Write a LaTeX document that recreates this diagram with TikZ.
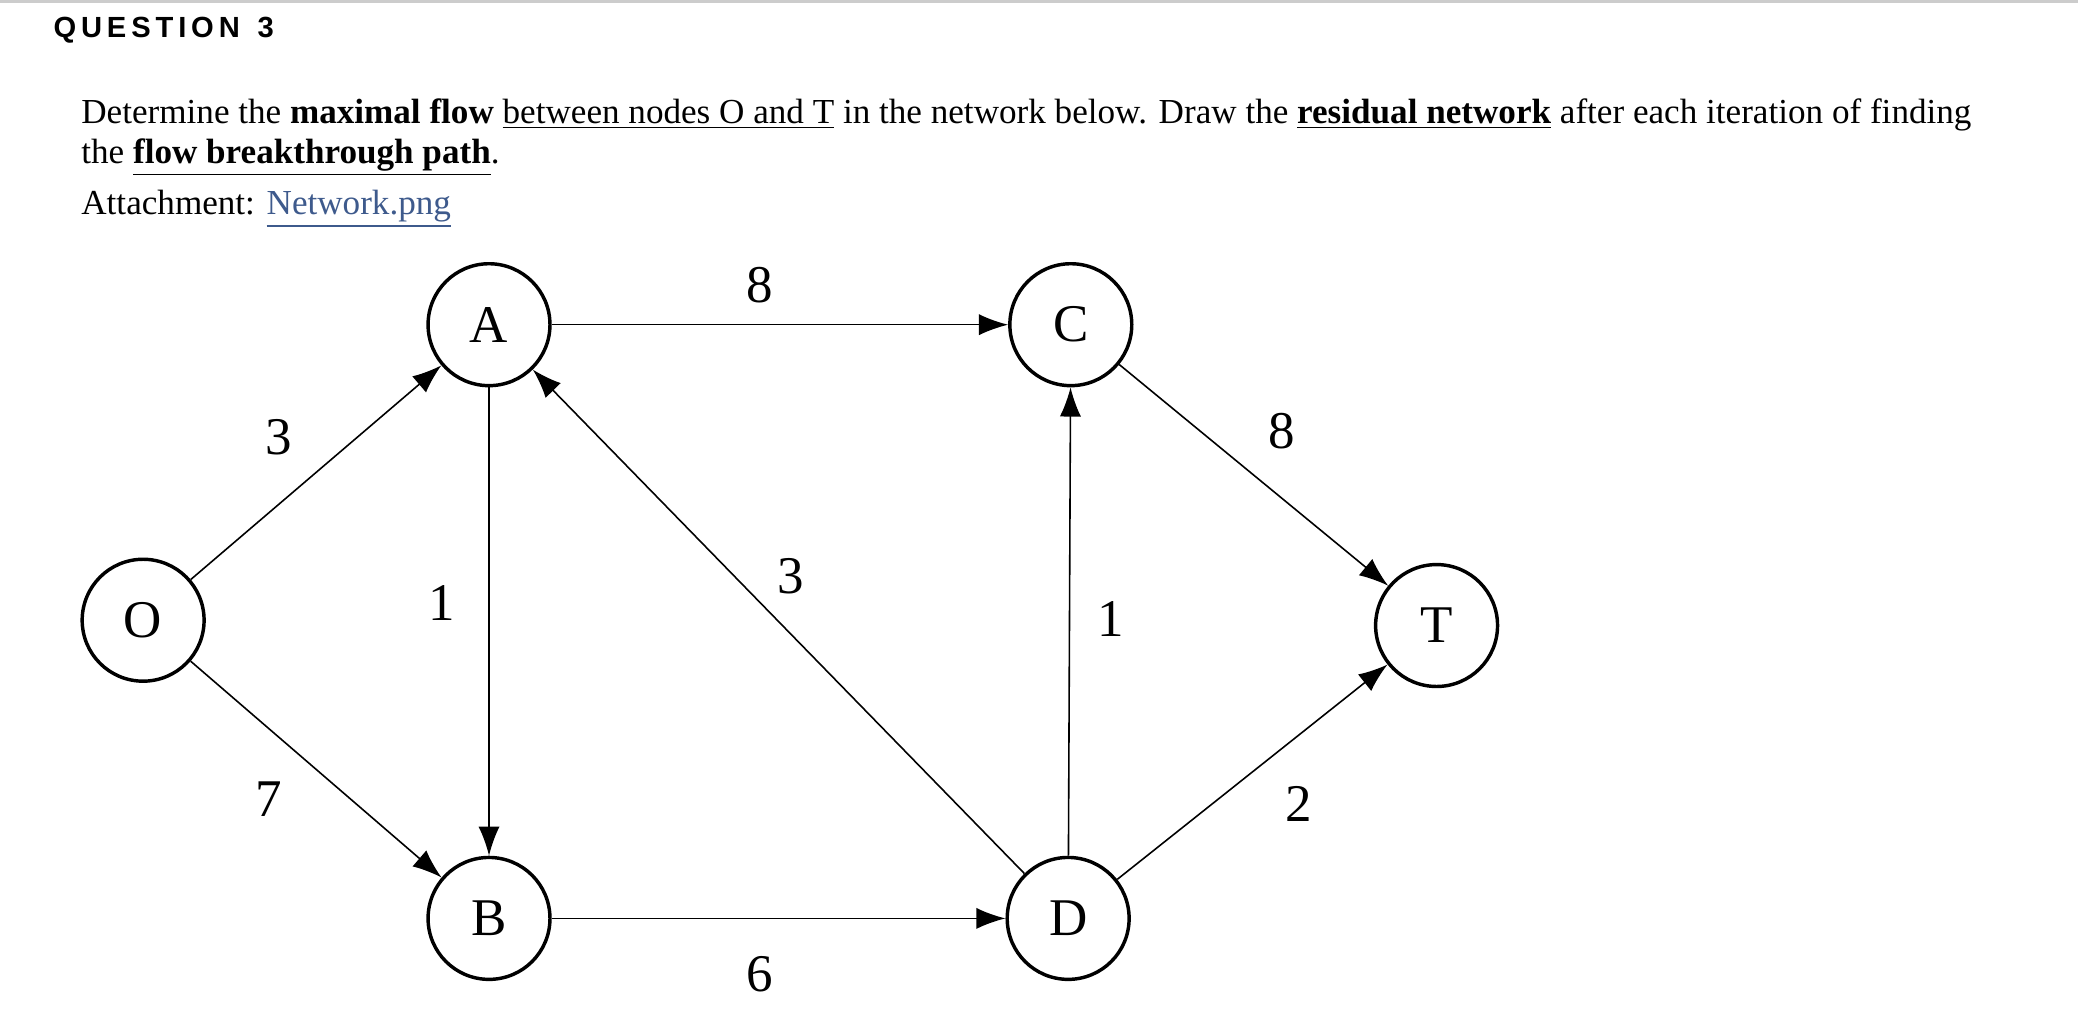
\documentclass[tikz,border=0pt]{standalone}
\usepackage{fontspec}
\setmainfont{Liberation Serif}
\newfontfamily\qsans{Liberation Sans}
\usetikzlibrary{arrows.meta}
\definecolor{linkc}{HTML}{3E5A8C}
\begin{document}
\begin{tikzpicture}[x=0.5pt,y=-0.5pt,
  nd/.style={circle,draw,line width=1.3pt,minimum size=46pt,inner sep=0pt,font=\fontsize{20}{20}\selectfont},
  ed/.style={line width=0.6pt,-{Latex[length=11pt,width=8pt]}},
  lb/.style={font=\fontsize{20}{20}\selectfont},
  tx/.style={anchor=base west,inner sep=0pt,font=\fontsize{13.25}{16}\selectfont}]
\useasboundingbox (0,0) rectangle (1568,771);
\draw[gray!40,line width=1pt] (0,1) -- (1568,1);
\node[anchor=west,inner sep=0pt,font=\qsans\bfseries\fontsize{11}{12}\selectfont] (q) at (40,23) {Q\,U\,E\,S\,T\,I\,O\,N\,\, 3};
\node[tx] (l1) at (61,93) {Determine the \textbf{maximal flow} \underline{between nodes O and T} in the network below. Draw the \underline{\textbf{residual network}} after each iteration of finding};
\node[tx] (l2) at (61,123) {the \underline{\textbf{flow breakthrough path}}.};
\node[tx] (l3) at (61,162) {Attachment: \textcolor{linkc}{\underline{Network.png}}};
\node[nd] (O) at (108,468) {O};
\node[nd] (A) at (369,245) {A};
\node[nd] (C) at (808,245) {C};
\node[nd] (T) at (1084,472) {T};
\node[nd] (B) at (369,693) {B};
\node[nd] (D) at (806,693) {D};
\draw[ed] (O) -- (A);
\draw[ed] (O) -- (B);
\draw[ed] (A) -- (C);
\draw[ed] (A) -- (B);
\draw[ed] (D) -- (A);
\draw[ed] (B) -- (D);
\draw[ed] (D) -- (C);
\draw[ed] (C) -- (T);
\draw[ed] (D) -- (T);
\node[lb] (l8a) at (573,215) {8};
\node[lb] (l3a) at (210,330) {3};
\node[lb] (l1a) at (333,455) {1};
\node[lb] (l3b) at (597,435) {3};
\node[lb] (l1b) at (838,467) {1};
\node[lb] (l8b) at (967,325) {8};
\node[lb] (l7) at (203,603) {7};
\node[lb] (l2) at (980,607) {2};
\node[lb] (l6) at (573,735) {6};
\end{tikzpicture}
\end{document}
